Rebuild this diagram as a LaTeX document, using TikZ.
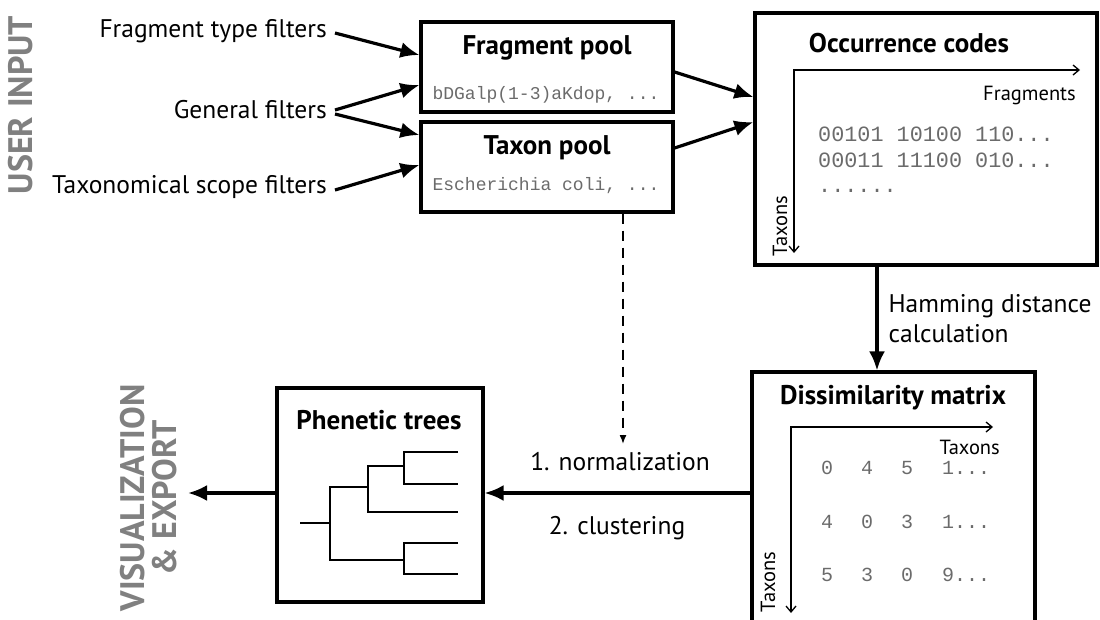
\documentclass[tikz,border=0pt]{standalone}
\usepackage{fontspec}
\setmainfont{PT Sans}
\newfontfamily\codefont{Liberation Mono}
\usetikzlibrary{arrows.meta}

\definecolor{headgray}{gray}{0.5}
\definecolor{codegray}{gray}{0.42}

\tikzset{
  panel/.style={draw, line width=3.2pt, inner sep=0pt},
  flow/.style={line width=3.2pt, -{Latex[length=19pt,width=16pt]}},
  axis/.style={line width=1.3pt, {Straight Barb[length=6pt,width=10pt]}-{Straight Barb[length=6pt,width=10pt]}},
  branch/.style={line width=1.7pt},
  plain/.style={font=\fontsize{25.5}{30}\selectfont, inner sep=0pt},
  title/.style={font=\fontsize{27}{30}\selectfont\bfseries, inner sep=0pt},
  small/.style={font=\fontsize{20.5}{24}\selectfont, inner sep=0pt},
  code/.style={font=\fontsize{18}{21}\selectfont\codefont, text=codegray, inner sep=0pt},
  cell/.style={font=\fontsize{20}{24}\selectfont\codefont, text=codegray, inner sep=0pt},
  bigcode/.style={font=\fontsize{21.8}{25.5}\selectfont\codefont, text=codegray, inner sep=0pt, align=left},
  side/.style={font=\fontsize{34}{34}\selectfont\bfseries, text=headgray, inner sep=0pt, rotate=90, align=center},
}

\begin{document}
\begin{tikzpicture}[x=1pt, y=-1pt]
\useasboundingbox (0,0) rectangle (1100,619);

% side headings
\node[side] (userinput) at (21,105) {USER INPUT};
\node[side, font=\fontsize{34}{32}\selectfont\bfseries] (visexport) at (149,498) {VISUALIZATION\\\& EXPORT};

% filters
\node[plain, anchor=east] (ftf) at (327,31) {Fragment type filters};
\node[plain, anchor=east] (gf) at (327,110) {General filters};
\node[plain, anchor=east] (tsf) at (327,187) {Taxonomical scope filters};

% pools
\node[panel, minimum width=252pt, minimum height=90pt] (frag) at (547,67) {};
\node[title] (fragt) at (547,48) {Fragment pool};
\node[code] (fragc) at (546,95) {bDGalp(1-3)aKdop, ...};

\node[panel, minimum width=252pt, minimum height=90pt] (taxon) at (547,167) {};
\node[title] (taxont) at (547,148) {Taxon pool};
\node[code] (taxonc) at (546,186) {Escherichia coli, ...};

% occurrence codes
\node[panel, minimum width=342pt, minimum height=252pt] (occ) at (926,139) {};
\node[title] (occt) at (909,43) {Occurrence codes};
\coordinate (occx) at (1080,70);
\coordinate (occo) at (794,70);
\coordinate (occy) at (794,253);
\draw[axis] (occx) -- (occo) -- (occy);
\node[small, anchor=east] (occfr) at (1076,95) {Fragments};
\node[small, rotate=90] (occtx) at (780,226) {Taxons};
\node[bigcode, anchor=north west] (occc) at (818,127) {00101 10100 110...\\00011 11100 010...\\......};

% dissimilarity matrix
\node[panel, minimum width=283pt, minimum height=262pt] (dis) at (893.5,503) {};
\node[title] (dist) at (893,398) {Dissimilarity matrix};
\coordinate (disx) at (993,427);
\coordinate (diso) at (791,427);
\coordinate (disy) at (791,613);
\draw[axis] (disx) -- (diso) -- (disy);
\node[small, anchor=east] (distx) at (1000,447) {Taxons};
\node[small, rotate=90] (disty) at (768,582) {Taxons};
\node[cell] at (827,468) {0};
\node[cell] at (867,468) {4};
\node[cell] at (907,468) {5};
\node[cell, anchor=west] at (942,468) {1...};
\node[cell] at (827,522) {4};
\node[cell] at (867,522) {0};
\node[cell] at (907,522) {3};
\node[cell, anchor=west] at (942,522) {1...};
\node[cell] at (827,575) {5};
\node[cell] at (867,575) {3};
\node[cell] at (907,575) {0};
\node[cell, anchor=west] at (942,575) {9...};

% phenetic trees
\node[panel, minimum width=206pt, minimum height=214pt] (phen) at (380,495) {};
\node[title] (phent) at (379,420) {Phenetic trees};
\draw[branch] (300,523) -- (330,523);
\draw[branch] (368,487) -- (330,487) -- (330,560) -- (404,560);
\draw[branch] (404,466) -- (368,466) -- (368,512) -- (458,512);
\draw[branch] (458,452) -- (404,452) -- (404,484) -- (458,484);
\draw[branch] (458,543) -- (404,543) -- (404,574) -- (458,574);

% connectors: filters to pools
\draw[flow] (ftf.east) ++(8,2) -- ([yshift=12pt]frag.west);
\draw[flow] (gf.east) ++(8,0) -- ([yshift=-18pt]frag.west);
\draw[flow] (gf.east) ++(8,4) -- ([yshift=32pt]taxon.west);
\draw[flow] (tsf.east) ++(8,3) -- ([yshift=2pt]taxon.west);

% pools to occurrence codes
\draw[flow] ([yshift=-5pt]frag.east) -- ([yshift=42pt]occ.west);
\draw[flow] ([yshift=19pt]taxon.east) -- ([yshift=17pt]occ.west);

% occurrence codes to dissimilarity matrix
\draw[flow] (occ.south -| 877,0) -- (dis.north -| 877,0)
  node[midway, right=10pt, plain, align=left] (ham) {Hamming distance\\calculation};

% dissimilarity matrix to phenetic trees
\draw[flow] (dis.west |- 0,493) -- (phen.east |- 0,493);
\node[plain] (norm) at (620,462) {1. normalization};
\node[plain] (clus) at (617,528) {2. clustering};

% taxon pool feeds normalization
\draw[line width=1.5pt, dash pattern=on 10pt off 7pt, -{Latex[length=9pt,width=7pt]}]
  (taxon.south -| 623,0) -- (623,444);

% phenetic trees to export
\draw[flow] (phen.west |- 0,493) -- (188,493);
\end{tikzpicture}
\end{document}
